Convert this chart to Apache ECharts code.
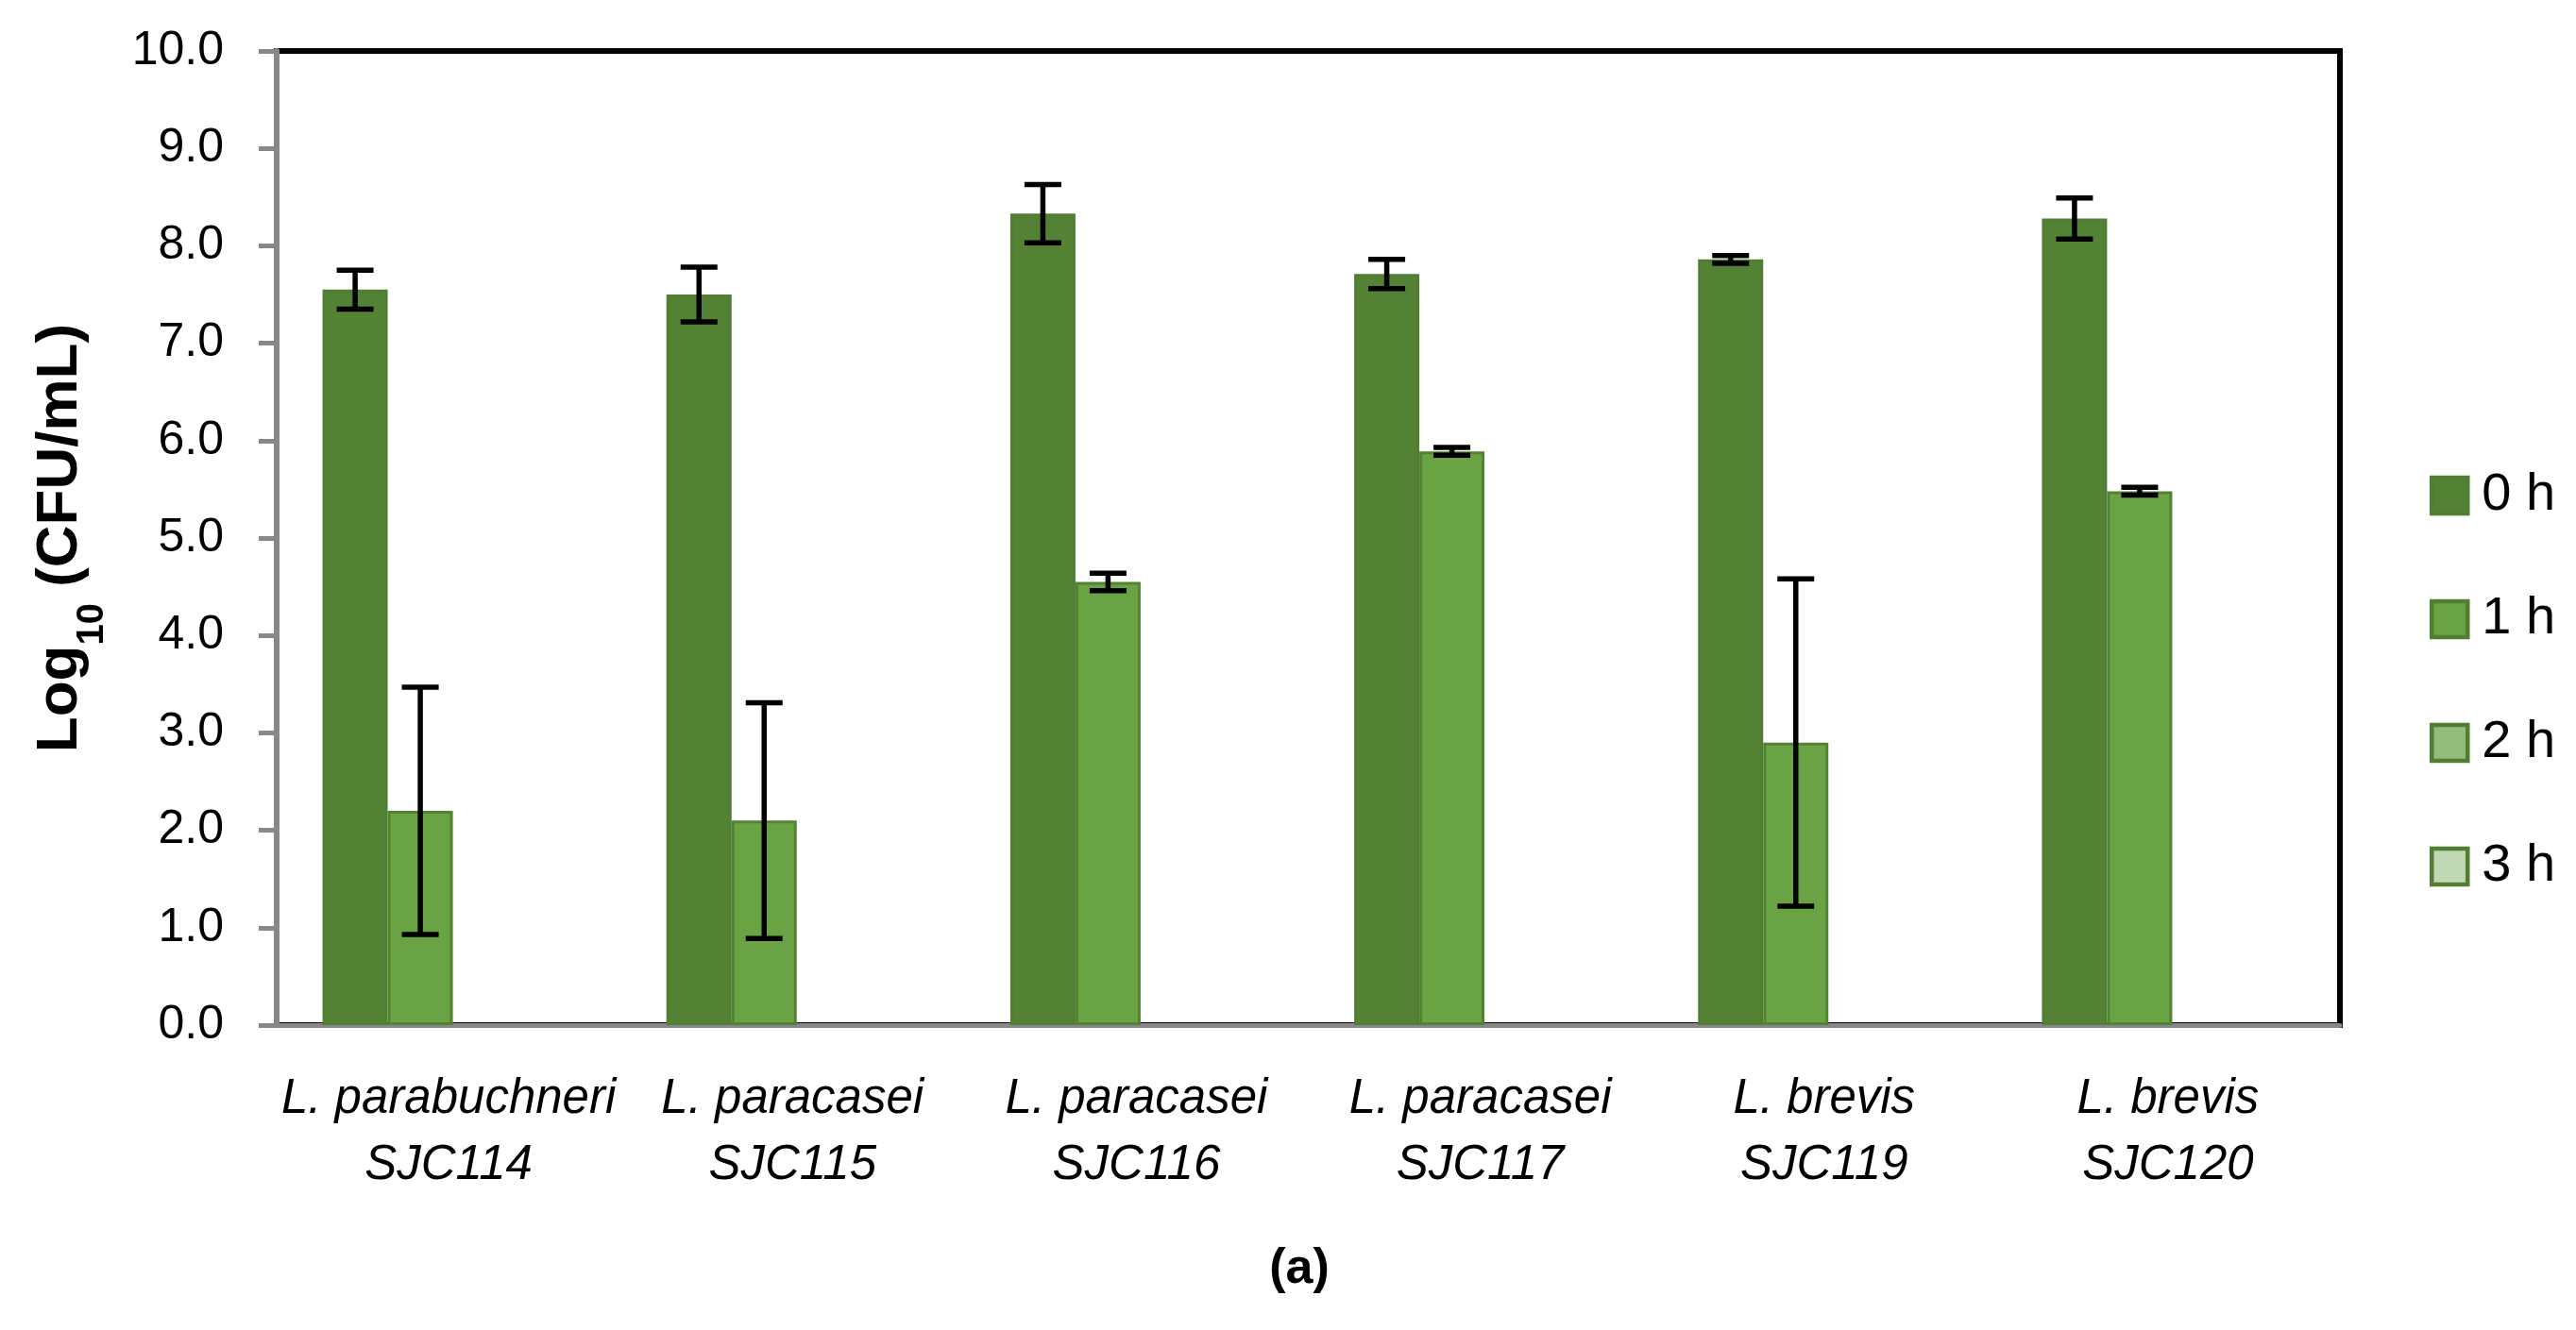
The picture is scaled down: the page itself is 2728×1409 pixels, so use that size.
<!DOCTYPE html>
<html>
<head>
<meta charset="utf-8">
<title>Log10 CFU/mL</title>
<script src="https://cdn.jsdelivr.net/npm/echarts@6/dist/echarts.min.js"></script>
<style>
	html, body { margin: 0; padding: 0; background: #fff; }
	#chart-container { width: 2728px; height: 1409px; }
</style>
</head>
<body>
<div id="chart-container"></div>
<script>

// strains (x categories)
var strains = [
	"L. parabuchneri\nSJC114",
	"L. paracasei\nSJC115",
	"L. paracasei\nSJC116",
	"L. paracasei\nSJC117",
	"L. brevis\nSJC119",
	"L. brevis\nSJC120"
];

var seriesNames = ["0 h", "1 h", "2 h", "3 h"];

// log10 CFU/mL
var h0 = [7.55, 7.50, 8.33, 7.71, 7.86, 8.28];
var h1 = [2.20, 2.10, 4.55, 5.89, 2.90, 5.48];
var h2 = [null, null, null, null, null, null];
var h3 = [null, null, null, null, null, null];

// standard deviations
var h0Err = [0.20, 0.28, 0.30, 0.15, 0.04, 0.21];
var h1Err = [1.27, 1.21, 0.09, 0.04, 1.68, 0.04];

var yTicks = [0, 1, 2, 3, 4, 5, 6, 7, 8, 9, 10];

var fillColors = ["#548235", "#6aa343", "#93bd7a", "#c1d8b4"];
var edgeColors = ["#507e32", "#548235", "#507e32", "#507e32"];

// slot widths of the four bars in one group (2 h / 3 h are empty)
var slotW = [69, 69, 64.5, 64.5];

function buildErrData() {
	var list = [];
	for (var i = 0; i < strains.length; i++) {
		list.push([i, h0[i], h0Err[i], 0]);
		list.push([i, h1[i], h1Err[i], 1]);
	}
	return list;
}

function slotCenter(slot) {
	var total = 0, before = 0;
	for (var k = 0; k < slotW.length; k++) {
		total += slotW[k];
		if (k < slot) before += slotW[k];
	}
	return -total / 2 + before + slotW[slot] / 2;
}

function renderErr(params, api) {
	var cat = api.value(0);
	var val = api.value(1);
	var err = api.value(2);
	var slot = api.value(3);
	var hi = api.coord([cat, val + err]);
	var lo = api.coord([cat, val - err]);
	var x = hi[0] + slotCenter(slot);
	var cap = 19.5;
	var st = { stroke: "#000", lineWidth: 5.5 };
	return {
		type: "group",
		children: [
			{ type: "line", shape: { x1: x, y1: hi[1], x2: x, y2: lo[1] }, style: st },
			{ type: "line", shape: { x1: x - cap, y1: hi[1], x2: x + cap, y2: hi[1] }, style: st },
			{ type: "line", shape: { x1: x - cap, y1: lo[1], x2: x + cap, y2: lo[1] }, style: st }
		]
	};
}

var values = [h0, h1, h2, h3];
var series = [];
for (var s = 0; s < seriesNames.length; s++) {
	series.push({
		name: seriesNames[s],
		type: "bar",
		data: values[s],
		barWidth: slotW[s],
		barGap: "0%",
		itemStyle: {
			color: fillColors[s],
			borderColor: edgeColors[s],
			borderWidth: 3
		}
	});
}
series.push({
	type: "custom",
	name: "err",
	data: buildErrData(),
	renderItem: renderErr,
	z: 10,
	encode: { x: 0, y: 1 }
});

var myChart = echarts.init(document.getElementById("chart-container"));

var option = {
	backgroundColor: "#fff",
	animation: false,
	grid: {
		left: 293,
		top: 54,
		width: 2185,
		height: 1032,
		show: true,
		borderColor: "#000",
		borderWidth: 6
	},
	legend: {
		data: seriesNames,
		orient: "vertical",
		left: 2568,
		top: 491,
		itemWidth: 38,
		itemHeight: 38,
		itemGap: 73,
		icon: "rect",
		itemStyle: { borderColor: "#507e32", borderWidth: 4.5 },
		textStyle: {
			fontFamily: "Liberation Sans",
			fontSize: 56,
			lineHeight: 58,
			color: "#000",
			padding: [0, 0, 0, 10]
		}
	},
	xAxis: {
		type: "category",
		data: strains,
		axisLine: { lineStyle: { color: "#888", width: 5 } },
		axisTick: { show: false },
		axisLabel: {
			interval: 0,
			margin: 44,
			fontFamily: "Liberation Sans",
			fontStyle: "italic",
			fontSize: 51,
			lineHeight: 70,
			color: "#000"
		}
	},
	yAxis: {
		type: "value",
		min: yTicks[0],
		max: yTicks[yTicks.length - 1],
		interval: 1,
		splitLine: { show: false },
		axisLine: { show: true, lineStyle: { color: "#888", width: 6 } },
		axisTick: { show: true, length: 19, lineStyle: { color: "#888", width: 5 } },
		axisLabel: {
			margin: 56,
			fontFamily: "Liberation Sans",
			fontSize: 50,
			color: "#000",
			formatter: function (v) { return v.toFixed(1); }
		},
		name: "{a|Log}{b|10}{a| (CFU/mL)}",
		nameLocation: "middle",
		nameGap: 190,
		nameTextStyle: {
			rich: {
				a: { fontFamily: "Liberation Sans", fontWeight: "bold", fontSize: 62, color: "#000", lineHeight: 70, verticalAlign: "top" },
				b: { fontFamily: "Liberation Sans", fontWeight: "bold", fontSize: 40, color: "#000", lineHeight: 40, verticalAlign: "top", padding: [45, 0, 0, 0] }
			}
		}
	},
	graphic: [{
		type: "text",
		x: 1376,
		y: 1345,
		style: {
			text: "(a)",
			fontFamily: "Liberation Sans",
			fontWeight: "bold",
			fontSize: 52,
			fill: "#000",
			align: "center",
			verticalAlign: "middle"
		}
	}],
	series: series
};

myChart.setOption(option);

</script>
</body>
</html>
